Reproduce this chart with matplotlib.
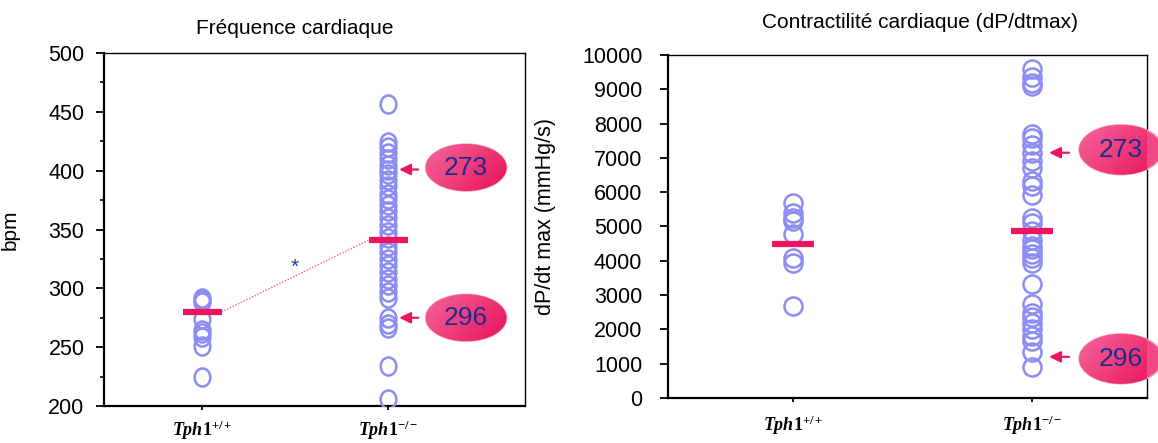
import numpy as np
import matplotlib
matplotlib.use('Agg')
import matplotlib.pyplot as plt
import matplotlib.transforms as mtransforms
from matplotlib.patches import Ellipse
from matplotlib.path import Path
from matplotlib.colors import LinearSegmentedColormap

plt.rcParams['font.family'] = ['Liberation Sans', 'DejaVu Sans']
plt.rcParams['mathtext.fontset'] = 'custom'
plt.rcParams['mathtext.rm'] = 'Liberation Serif:bold'
plt.rcParams['mathtext.it'] = 'Liberation Serif:italic:bold'

# data
groups = [r'$\mathit{Tph1}^{+/+}$', r'$\mathit{Tph1}^{-/-}$']

bpm_wt = [292, 290, 288, 274, 265, 262, 259, 251, 225]
bpm_ko = [457, 424, 420, 415, 410, 405, 401, 397, 392, 387, 380, 376, 371,
          366, 360, 354, 348, 343, 336, 331, 325, 320, 314, 308, 303, 297,
          292, 275, 270, 266, 234, 206]
bpm_means = [280, 341]

dpdt_wt = [5690, 5400, 5250, 5150, 4770, 4090, 3950, 2680]
dpdt_ko = [9600, 9370, 9180, 9100, 7700, 7580, 7380, 7150, 6900, 6700, 6320,
           6170, 5930, 5250, 5100, 4860, 4620, 4430, 4330, 4190, 4090, 3940,
           3310, 2730, 2490, 2350, 2200, 2000, 1810, 1670, 1330, 890]
dpdt_means = [4500, 4880]

# values pointed at by the callouts (mouse 273 and 296)
bpm_callouts = [('273', 401), ('296', 275)]
dpdt_callouts = [('273', 7150), ('296', 1200)]

ring = '#8c8df4'
pink = '#ee1460'
navy = '#1c2b8e'

fig = plt.figure(figsize=(11.58, 4.43), dpi=100)
ax1 = fig.add_axes([0.0898, 0.0835, 0.3636, 0.7968])
ax2 = fig.add_axes([0.5769, 0.1016, 0.4136, 0.7743])

circ = Path.unit_circle()
tall_o = Path(circ.vertices * [0.87, 1.0], circ.codes)

grad_cmap = LinearSegmentedColormap.from_list('g', ['#f4659a', '#ef3c7a', '#e6105a'])


def callout(ax, x, y, label, tip, tail, cx, cy, w, h):
    # offsets in output pixels (dpi 100) from the data point (x, y)
    base = fig.dpi_scale_trans + mtransforms.ScaledTranslation(x, y, ax.transData)
    ax.annotate('', xy=(tip / 100, 0), xycoords=base,
                xytext=(tail / 100, 0), textcoords=base,
                arrowprops=dict(arrowstyle='-|>,head_length=0.45,head_width=0.22',
                                color=pink, lw=1.6, mutation_scale=15,
                                shrinkA=0, shrinkB=0),
                annotation_clip=False, zorder=6)
    ell = Ellipse((cx / 100, cy / 100), w / 100, h / 100, transform=base,
                  fc='#ef4a86', ec='#f7a0c0', lw=1.0, clip_on=False, zorder=5)
    ax.add_patch(ell)
    gx, gy = np.meshgrid(np.linspace(0, 1, 60), np.linspace(0, 1, 40))
    grad = 0.65 * gx + 0.35 * gy
    ax.imshow(grad, cmap=grad_cmap, aspect='auto', interpolation='bilinear',
              extent=((cx - w / 2) / 100, (cx + w / 2) / 100,
                      (cy - h / 2) / 100, (cy + h / 2) / 100),
              transform=base, clip_path=ell, zorder=5.5)
    ax.text(cx / 100, cy / 100, label, transform=base, ha='center', va='center',
            fontsize=19, color=navy, zorder=7, clip_on=False)


def panel(ax, wt, ko, means, hw, marker):
    ax.plot([1] * len(wt), wt, ls='none', marker=marker, ms=13, mfc='none',
            mec=ring, mew=1.8, zorder=3)
    ax.plot([2] * len(ko), ko, ls='none', marker=marker, ms=13, mfc='none',
            mec=ring, mew=1.8, zorder=3)
    for i, m in enumerate(means):
        ax.plot([i + 1 - hw, i + 1 + hw], [m, m], color=pink, lw=4.5,
                solid_capstyle='butt', zorder=4)
    ax.set_xticks([1, 2])
    ax.set_xticklabels(groups, fontsize=13)
    for s in ['left', 'bottom']:
        ax.spines[s].set_linewidth(1.6)
    for s in ['top', 'right']:
        ax.spines[s].set_linewidth(1.0)


# left panel: heart rate
panel(ax1, bpm_wt, bpm_ko, bpm_means, 0.105, tall_o)
ax1.plot([1.105, 1.895], bpm_means, color='#f27aa2', lw=1.1, dashes=(1, 1), zorder=2)
ax1.text(1.5, 318, '*', ha='center', va='center', fontsize=15, color='#1f3a9a')
ax1.set_yticks(np.arange(200, 501, 50))
ax1.set_yticks(np.arange(225, 500, 50), minor=True)
ax1.tick_params(axis='y', which='major', direction='out', length=6, width=1.3,
                labelsize=15.5, pad=8)
ax1.tick_params(axis='y', which='minor', direction='out', length=3, width=1.2)
ax1.tick_params(axis='x', direction='out', length=3, width=1.3, pad=6)
ax1.set_ylabel('bpm', fontsize=15)
ax1.yaxis.set_label_coords(-0.2, 0.5)
fig.text(295 / 1158, 1 - 28 / 443, 'Fréquence cardiaque', ha='center', va='center',
         fontsize=15)
callout(ax1, 2, bpm_callouts[0][1], bpm_callouts[0][0], 11, 30, 78, 2, 81, 47)
callout(ax1, 2, bpm_callouts[1][1], bpm_callouts[1][0], 11, 30, 78, 0, 81, 47)
ax1.set_xlim(0.473, 2.736)
ax1.set_ylim(200, 500)

# right panel: contractility
panel(ax2, dpdt_wt, dpdt_ko, dpdt_means, 0.086, 'o')
ax2.set_yticks(np.arange(0, 10001, 1000))
ax2.tick_params(axis='y', direction='out', length=6, width=1.3, labelsize=15.5,
                pad=12.5)
ax2.tick_params(axis='x', direction='out', length=3, width=1.3, pad=8)
ax2.set_ylabel('dP/dt max (mmHg/s)', fontsize=15.5)
ax2.yaxis.set_label_coords(-0.234, 0.53)
fig.text(920 / 1158, 1 - 22 / 443, 'Contractilité cardiaque (dP/dtmax)', ha='center',
         va='center', fontsize=15)
callout(ax2, 2, dpdt_callouts[0][1], dpdt_callouts[0][0], 17, 37, 89, 3, 84, 50)
callout(ax2, 2, dpdt_callouts[1][1], dpdt_callouts[1][0], 17, 37, 89, -2, 84, 50)
ax2.set_xlim(0.477, 2.481)
ax2.set_ylim(0, 10000)

fig.savefig('out.png', dpi=100)
